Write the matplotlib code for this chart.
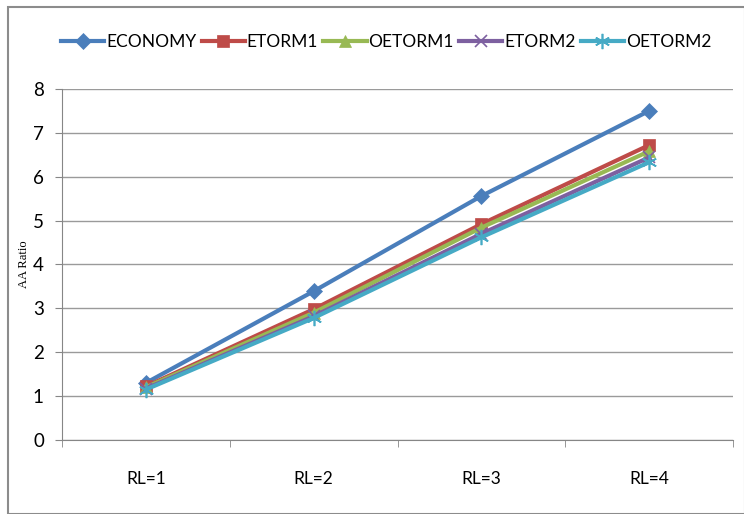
import matplotlib

matplotlib.use("Agg")
import matplotlib.pyplot as plt
from matplotlib.patches import Rectangle

categories = ["RL=1", "RL=2", "RL=3", "RL=4"]
economy = [1.30, 3.39, 5.56, 7.50]
etorm1 = [1.22, 2.98, 4.92, 6.72]
oetorm1 = [1.20, 2.90, 4.84, 6.58]
etorm2 = [1.17, 2.82, 4.70, 6.44]
oetorm2 = [1.15, 2.78, 4.62, 6.33]

series = [
    ("ECONOMY", economy, "#4A7EBB", "D", 8),
    ("ETORM1", etorm1, "#BE4B48", "s", 9),
    ("OETORM1", oetorm1, "#98B954", "^", 9),
    ("ETORM2", etorm2, "#7D60A0", "x", 8),
    ("OETORM2", oetorm2, "#46AAC5", (6, 2, 0), 11),
]

plt.rcParams["font.family"] = ["Lato", "DejaVu Sans"]

fig = plt.figure(figsize=(7.44, 5.14), dpi=100)
fig.patches.append(
    Rectangle((0.011, 0.0), 0.99, 0.986, transform=fig.transFigure,
              fill=False, edgecolor="#8c8c8c", linewidth=1.5)
)
ax = fig.add_axes([0.0833, 0.144, 0.902, 0.683])

x = list(range(len(categories)))
for name, vals, color, marker, ms in series:
    ax.plot(x, vals, color=color, linewidth=3, marker=marker, markersize=ms,
            markeredgewidth=1.2 if marker in ("x", (6, 2, 0)) else 0.5,
            markeredgecolor=color, label=name, zorder=3)

ax.set_xlim(-0.5, 3.5)
ax.set_ylim(0, 8)
ax.set_xticks(x)
ax.set_xticklabels(categories, fontsize=12.5)
ax.set_xticks([-0.5, 0.5, 1.5, 2.5, 3.5], minor=True)
ax.tick_params(axis="x", which="major", length=0, pad=22)
ax.tick_params(axis="x", which="minor", length=5, color="#868686", direction="out")
ax.set_yticks(range(0, 9))
ax.tick_params(axis="y", length=5, color="#868686", labelsize=13.5, pad=8)
ax.grid(axis="y", color="#9a9a9a", linewidth=1)
ax.set_axisbelow(True)
for side in ("top", "right"):
    ax.spines[side].set_visible(False)
for side in ("left", "bottom"):
    ax.spines[side].set_color("#868686")
ax.set_ylabel("AA Ratio", family="Liberation Serif", fontsize=9, labelpad=2)

fig.legend(loc="center", bbox_to_anchor=(0.519, 0.918), ncol=5, frameon=False,
           fontsize=12.5, handlelength=2.5, handletextpad=0.1, columnspacing=0.3)

fig.savefig("out.png", dpi=100)
